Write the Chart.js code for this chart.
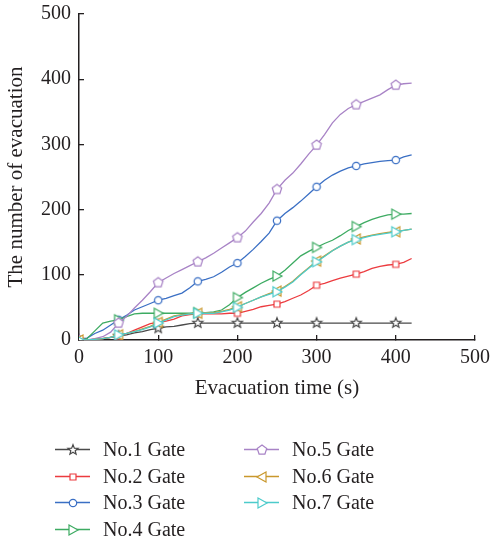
<!DOCTYPE html>
<html>
<head>
<meta charset="utf-8">
<script src="https://cdn.jsdelivr.net/npm/chart.js@4.4.1/dist/chart.umd.min.js"></script>
<style>
  html, body { margin: 0; padding: 0; background: #fff; }
  #wrap { width: 493px; height: 542px; }
</style>
</head>
<body>
<div id="wrap"><canvas id="evac" width="493" height="542"></canvas></div>
<script>
// evacuation time (s), sampled every 10 s
const times = [0,10,20,30,40,50,60,70,80,90,100,110,120,130,140,150,160,170,180,190,200,
  210,220,230,240,250,260,270,280,290,300,310,320,330,340,350,360,370,380,390,400,410,420];

// cumulative number of evacuees per gate
const gate1 = [0,0,1,2,4,6,8,11,13,16,18,20,21,23,25,26,26,26,26,26,26,
  26,26,26,26,26,26,26,26,26,26,26,26,26,26,26,26,26,26,26,26,26,26];
const gate2 = [0,0,1,2,4,6,10,15,20,25,27,29,32,37,39,40,40,40,40,41,41,
  44,47,51,53,55,59,64,69,76,84,87,91,95,98,101,105,110,113,115,116,119,125];
const gate3 = [0,3,10,15,23,31,38,46,51,56,61,64,68,72,80,90,93,97,104,112,118,
  128,139,151,164,183,194,203,213,224,235,245,253,259,264,267,270,272,274,275,276,281,284];
const gate4 = [0,2,14,26,29,31,36,40,41,41,41,41,41,41,41,42,42,43,46,54,65,
  73,80,87,93,98,107,118,129,136,142,148,153,160,168,174,180,185,189,192,193,193,194];
const gate5 = [0,0,2,5,12,26,36,49,61,74,88,95,102,108,114,120,126,133,141,149,157,
  167,181,194,210,231,245,256,270,285,299,315,333,346,355,361,366,371,376,384,391,393,394];
const gate6 = [0,0,1,2,4,8,10,13,17,21,27,32,37,39,40,41,42,42,44,47,51,
  56,61,66,71,75,82,90,101,111,121,129,137,144,150,155,158,161,163,165,166,168,170];
const gate7 = [0,0,1,2,4,8,10,13,16,20,26,31,36,38,40,41,41,41,43,46,50,
  56,61,66,70,74,81,89,100,110,120,128,137,144,150,154,157,160,162,164,166,168,170];

const gateNames = ["No.1 Gate","No.2 Gate","No.3 Gate","No.4 Gate","No.5 Gate","No.6 Gate","No.7 Gate"];
const gateSeries = [gate1, gate2, gate3, gate4, gate5, gate6, gate7];

const gateColors = ["#4a4a4a","#ec3b3f","#3a6fc4","#3dab62","#a883c6","#c9982c","#4ccbcb"];
const gateShapes = ["star","square","circle","right","pentagon","left","right"];

// hollow marker glyphs drawn into small canvases
function makeMarker(shape, color) {
  const c = document.createElement("canvas");
  c.width = 14; c.height = 14;
  const g = c.getContext("2d");
  g.translate(7, 7);
  g.strokeStyle = color;
  g.fillStyle = "#fff";
  g.lineWidth = 1.2;
  g.beginPath();
  if (shape === "circle") {
    g.arc(0, 0, 3.7, 0, Math.PI * 2);
  } else if (shape === "square") {
    g.rect(-3, -3, 6, 6);
  } else if (shape === "right") {
    g.moveTo(-4, -5); g.lineTo(5, 0); g.lineTo(-4, 5); g.closePath();
  } else if (shape === "left") {
    g.moveTo(4, -5); g.lineTo(-5, 0); g.lineTo(4, 5); g.closePath();
  } else if (shape === "pentagon") {
    for (let k = 0; k < 5; k++) {
      const a = -Math.PI / 2 + k * 2 * Math.PI / 5;
      g.lineTo(5 * Math.cos(a), 5 * Math.sin(a));
    }
    g.closePath();
  } else if (shape === "star") {
    for (let k = 0; k < 10; k++) {
      const a = -Math.PI / 2 + k * Math.PI / 5;
      const r = k % 2 ? 2.3 : 5.3;
      g.lineTo(r * Math.cos(a), r * Math.sin(a));
    }
    g.closePath();
  }
  g.fill();
  g.stroke();
  return c;
}

const datasets = gateSeries.map((s, i) => ({
  label: gateNames[i],
  data: times.map((t, k) => ({ x: t, y: s[k] })),
  borderColor: gateColors[i],
  backgroundColor: "#fff",
  borderWidth: 1.3,
  tension: 0,
  pointStyle: makeMarker(gateShapes[i], gateColors[i]),
  pointRadius: ctx => (ctx.raw && ctx.raw.x % 50 === 0 ? 4 : 0),
  order: 6 - i
}));

// two-column legend under the plot
const gateLegend = {
  id: "gateLegend",
  afterDraw(chart) {
    const ctx = chart.ctx;
    ctx.save();
    ctx.font = '20px "Liberation Serif"';
    ctx.textBaseline = "middle";
    chart.data.datasets.forEach((ds, i) => {
      const col = i < 4 ? 0 : 1;
      const row = i < 4 ? i : i - 4;
      const x0 = col ? 244 : 55;
      const y = Math.round(449 + row * 26.7) + 0.5;
      ctx.strokeStyle = ds.borderColor;
      ctx.lineWidth = 1.3;
      ctx.beginPath();
      ctx.moveTo(x0, y);
      ctx.lineTo(x0 + 35, y);
      ctx.stroke();
      ctx.drawImage(ds.pointStyle, x0 + 11, Math.round(y - 7));
      ctx.fillStyle = "#231f20";
      ctx.fillText(ds.label, x0 + 48, y + 1);
    });
    ctx.restore();
  }
};

Chart.defaults.font.family = '"Liberation Serif", "Times New Roman", serif';
Chart.defaults.color = "#231f20";

new Chart(document.getElementById("evac"), {
  type: "line",
  data: { datasets },
  options: {
    responsive: false,
    animation: false,
    layout: { padding: { left: 0, top: 14, right: 18, bottom: 141 } },
    plugins: {
      legend: { display: false },
      tooltip: { enabled: false }
    },
    scales: {
      x: {
        type: "linear",
        min: 0,
        max: 500,
        ticks: { stepSize: 100, padding: 11, font: { size: 20 }, color: "#231f20" },
        grid: { drawOnChartArea: false, drawTicks: true, tickLength: -5, color: "#231f20", lineWidth: 1.3 },
        border: { color: "#231f20", width: 1.5 },
        title: { display: true, text: "Evacuation time (s)", font: { size: 21 }, color: "#231f20", padding: { top: 0, bottom: 0 } },
        afterFit(scale) {
          scale.height = 61;
          scale.paddingLeft = 0;
          scale.paddingRight = 0;
        }
      },
      y: {
        min: 0,
        max: 500,
        ticks: { stepSize: 100, padding: 13, font: { size: 20 }, color: "#231f20" },
        grid: { drawOnChartArea: false, drawTicks: true, tickLength: -5, color: "#231f20", lineWidth: 1.3 },
        border: { color: "#231f20", width: 1.5 },
        title: { display: true, text: "The number of evacuation", font: { size: 21 }, color: "#231f20", padding: { top: 4, bottom: 0 } },
        afterFit(scale) {
          scale.width = 79;
          scale.paddingTop = 0;
          scale.paddingBottom = 0;
        }
      }
    }
  },
  plugins: [gateLegend]
});
</script>
</body>
</html>
